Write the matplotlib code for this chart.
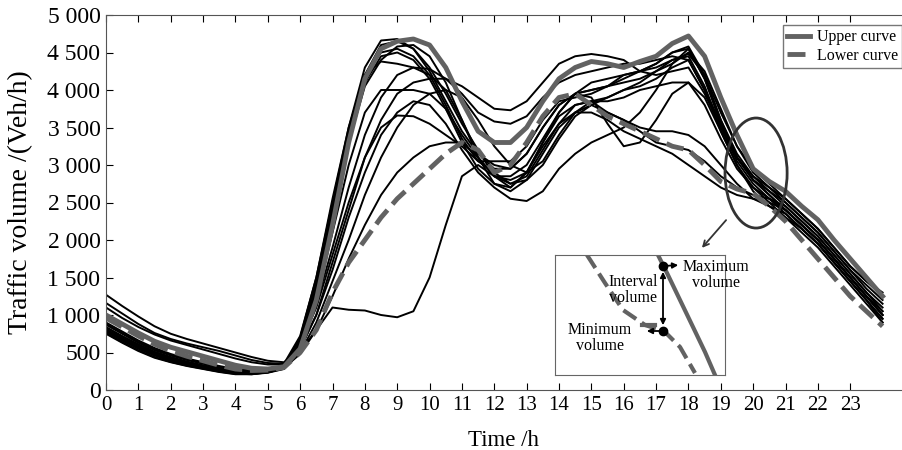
import numpy as np
import matplotlib
matplotlib.use("Agg")
import matplotlib.pyplot as plt
from matplotlib.patches import Ellipse
from matplotlib.lines import Line2D
from matplotlib.ticker import FuncFormatter

plt.rcParams["font.family"] = ["Liberation Serif", "DejaVu Serif"]

# half-hour time grid, 0 h .. 24 h
hours = [i * 0.5 for i in range(49)]

# traffic volume (veh/h), one list per day
day_01 = [900, 780, 660, 560, 480, 420, 370, 320, 280, 260, 265, 320,
          700, 1500, 2500, 3500, 4300, 4660, 4680, 4550, 4250, 3850, 3450, 3150,
          2950, 2950, 3150, 3500, 3800, 3950, 4000, 4050, 4150, 4250, 4350, 4500,
          4580, 4200, 3600, 3150, 2850, 2650, 2450, 2250, 2050, 1800, 1550, 1300, 1100]
day_02 = [870, 750, 630, 530, 460, 400, 350, 300, 270, 250, 260, 310,
          650, 1400, 2400, 3400, 4200, 4600, 4650, 4550, 4300, 3950, 3550, 3200,
          2850, 2850, 3000, 3350, 3700, 3950, 4100, 4150, 4200, 4250, 4350, 4500,
          4550, 4150, 3550, 3100, 2800, 2600, 2400, 2200, 2000, 1750, 1500, 1250, 1000]
day_03 = [830, 710, 600, 500, 430, 370, 320, 280, 250, 240, 255, 300,
          680, 1450, 2450, 3450, 4200, 4500, 4550, 4450, 4200, 3800, 3350, 3050,
          3050, 3050, 3250, 3600, 3850, 3900, 3950, 4050, 4200, 4250, 4300, 4400,
          4450, 4050, 3500, 3050, 2750, 2550, 2350, 2150, 1950, 1700, 1450, 1200, 950]
day_04 = [1160, 1020, 880, 760, 680, 620, 570, 520, 460, 400, 360, 350,
          720, 1500, 2550, 3500, 4200, 4380, 4350, 4300, 4200, 4000, 3600, 3100,
          2750, 2700, 2900, 3300, 3650, 3800, 3850, 3900, 4000, 4100, 4250, 4350,
          4500, 4250, 3750, 3250, 2900, 2700, 2500, 2300, 2100, 1850, 1600, 1400, 1200]
day_05 = [800, 680, 570, 480, 410, 350, 300, 260, 230, 220, 245, 300,
          600, 1200, 2100, 3000, 3700, 4000, 4000, 4000, 3950, 3750, 3400, 3100,
          2850, 2800, 2900, 3250, 3550, 3700, 3800, 3900, 4000, 4050, 4150, 4300,
          4400, 4000, 3450, 3000, 2700, 2500, 2300, 2100, 1900, 1650, 1400, 1150, 900]
day_06 = [780, 660, 550, 460, 390, 340, 290, 250, 220, 210, 235, 290,
          620, 1300, 2300, 3300, 4050, 4400, 4580, 4600, 4450, 4100, 3600, 3150,
          3000, 2950, 3150, 3500, 3800, 3950, 4000, 4050, 4100, 4150, 4250, 4400,
          4480, 4200, 3700, 3250, 2950, 2750, 2550, 2350, 2150, 1900, 1650, 1450, 1300]
day_07 = [1270, 1120, 980, 850, 750, 680, 620, 560, 500, 440, 390, 370,
          550, 1000, 1700, 2400, 3100, 3600, 3950, 4100, 4150, 4150, 4050, 3900,
          3750, 3730, 3850, 4100, 4350, 4450, 4480, 4450, 4400, 4250, 4200, 4250,
          4300, 3950, 3500, 3100, 2850, 2700, 2550, 2350, 2150, 1900, 1650, 1450, 1250]
day_08 = [1100, 960, 840, 740, 660, 600, 540, 480, 420, 370, 340, 340,
          580, 1150, 1900, 2700, 3400, 3900, 4200, 4300, 4280, 4150, 3950, 3700,
          3580, 3550, 3650, 3900, 4100, 4200, 4250, 4300, 4350, 4350, 4400, 4450,
          4400, 4000, 3550, 3100, 2800, 2650, 2500, 2300, 2100, 1850, 1600, 1350, 1150]
day_09 = [750, 630, 520, 430, 370, 320, 280, 240, 210, 210, 230, 280,
          600, 1100, 1800, 2500, 3100, 3500, 3660, 3650, 3550, 3400, 3250, 3050,
          2900, 2750, 2850, 3200, 3550, 3800, 3850, 3700, 3600, 3450, 3300, 3250,
          3200, 3050, 2850, 2700, 2600, 2550, 2450, 2250, 2050, 1800, 1550, 1300, 1050]
day_10 = [880, 760, 640, 545, 470, 410, 360, 310, 275, 255, 260, 305,
          500, 900, 1450, 2000, 2600, 3100, 3500, 3800, 3950, 4000, 3900, 3600,
          3250, 3000, 2900, 3050, 3400, 3700, 3850, 3850, 3900, 4000, 4050, 4100,
          4100, 3800, 3350, 2950, 2700, 2550, 2400, 2200, 2000, 1750, 1500, 1250, 1000]
day_11 = [810, 690, 580, 490, 420, 360, 310, 270, 240, 230, 250, 295,
          480, 800, 1250, 1750, 2200, 2600, 2900, 3100, 3250, 3300, 3300, 3100,
          2850, 2750, 2800, 3000, 3350, 3650, 3800, 3700, 3600, 3500, 3450, 3450,
          3400, 3250, 3000, 2750, 2550, 2450, 2350, 2150, 1950, 1700, 1450, 1200, 950]
day_12 = [790, 670, 560, 470, 400, 345, 295, 255, 225, 215, 240, 300,
          520, 800, 1100, 1070, 1060, 1000, 970, 1050, 1500, 2200, 2850, 3000,
          2850, 2700, 2900, 3300, 3700, 3950, 3900, 3550, 3250, 3300, 3600, 3950,
          4100, 3900, 3450, 3000, 2650, 2450, 2300, 2150, 1950, 1700, 1450, 1200, 900]
day_13 = [840, 720, 610, 510, 440, 380, 330, 290, 255, 245, 255, 295,
          550, 1000, 1600, 2300, 2900, 3400, 3700, 3850, 3800, 3550, 3200, 2900,
          2700, 2550, 2520, 2650, 2950, 3150, 3300, 3400, 3500, 3700, 4000, 4350,
          4550, 4150, 3600, 3100, 2800, 2600, 2400, 2200, 2000, 1750, 1500, 1250, 1050]
day_14 = [760, 640, 530, 440, 375, 325, 285, 245, 215, 215, 235, 285,
          650, 1350, 2350, 3350, 4100, 4450, 4500, 4400, 4150, 3750, 3300, 2950,
          2750, 2650, 2800, 3150, 3500, 3700, 3700, 3600, 3450, 3350, 3250, 3150,
          3000, 2850, 2700, 2600, 2550, 2500, 2400, 2200, 2000, 1750, 1500, 1250, 1000]

upper_curve = [1000, 880, 760, 650, 570, 510, 450, 390, 330, 290, 280, 310,
               550, 1200, 2200, 3300, 4150, 4550, 4650, 4680, 4600, 4300, 3850, 3450,
               3300, 3300, 3500, 3850, 4150, 4300, 4380, 4350, 4300, 4380, 4450, 4620,
               4720, 4450, 3900, 3400, 2950, 2780, 2650, 2450, 2270, 2000, 1750, 1500, 1250]
lower_curve = [960, 840, 720, 610, 520, 450, 390, 330, 280, 260, 265, 300,
               500, 800, 1300, 1700, 2000, 2300, 2550, 2750, 2950, 3150, 3300, 3200,
               2900, 3000, 3300, 3650, 3900, 3950, 3800, 3650, 3550, 3450, 3350, 3250,
               3200, 3000, 2780, 2680, 2620, 2450, 2250, 2000, 1750, 1500, 1250, 1050, 850]

days = [day_01, day_02, day_03, day_04, day_05, day_06, day_07,
        day_08, day_09, day_10, day_11, day_12, day_13, day_14]

# schematic inset (local coords, y grows downwards)
inset_upper_x = [103, 112, 125, 138, 150, 160]
inset_upper_y = [0, 18, 45, 72, 97, 120]
inset_lower_x = [32, 50, 68, 90, 109, 125, 140]
inset_lower_y = [0, 28, 55, 70, 76, 92, 118]
max_pt = (108, 11)
min_pt = (108, 76)

gray = "#626262"

fig = plt.figure(figsize=(9.02, 4.5), dpi=100)
ax = fig.add_axes([106 / 902, 60 / 450, 796 / 902, 375 / 450])

for d in days:
    ax.plot(hours, d, color="black", lw=1.4, zorder=2)
ax.plot(hours, upper_curve, color=gray, lw=3.5, zorder=3)
ax.plot(hours, lower_curve, color=gray, lw=3.5, ls="--", zorder=3)

ax.set_xlim(0, 24.6)
ax.set_ylim(0, 5000)
ax.set_xticks(range(24))
ax.set_yticks(range(0, 5001, 500))
ax.yaxis.set_major_formatter(FuncFormatter(lambda v, p: f"{int(v):,}".replace(",", " ")))
ax.tick_params(direction="in", top=True, right=False, length=5, pad=4)
ax.tick_params(axis="x", labelsize=15)
ax.tick_params(axis="y", labelsize=17)
for s in ["left", "bottom", "top"]:
    ax.spines[s].set_color("#555555")
ax.spines["right"].set_visible(False)
ax.set_xlabel("Time /h", fontsize=16.5, labelpad=11)
ax.set_ylabel("Traffic volume /(Veh/h)", fontsize=20)
ax.yaxis.set_label_coords(-0.092, 0.5)

# highlighted region and pointer
ax.add_patch(Ellipse((20.09, 2893), 1.92, 1467, fill=False, edgecolor="#333333", lw=2, zorder=4))
ax.annotate("", xy=(18.36, 1867), xytext=(19.22, 2293),
            arrowprops=dict(arrowstyle="->", color="#333333", lw=1.3))

handles = [Line2D([], [], color=gray, lw=3.5),
           Line2D([], [], color=gray, lw=3.5, ls="--")]
leg = ax.legend(handles, ["Upper curve", "Lower curve"], loc="upper right",
                bbox_to_anchor=(1.0, 0.973), borderaxespad=0, fontsize=11.5,
                fancybox=False, handlelength=1.5, handletextpad=0.4,
                borderpad=0.25, labelspacing=0.15)
leg.get_frame().set_edgecolor("#555555")
leg.get_frame().set_linewidth(1)

# inset sketch
ai = fig.add_axes([555 / 902, 75 / 450, 170 / 902, 120 / 450])
ai.set_xlim(0, 170)
ai.set_ylim(120, 0)
ai.set_xticks([])
ai.set_yticks([])
for s in ai.spines.values():
    s.set_color("#666666")
ai.plot(inset_upper_x, inset_upper_y, color=gray, lw=3)
ai.plot(inset_lower_x, inset_lower_y, color=gray, lw=3, ls="--")
ai.plot([87, 100], [70, 70], color=gray, lw=3)
ai.plot(*max_pt, "o", color="black", ms=6)
ai.plot(*min_pt, "o", color="black", ms=6)
ai.annotate("", xy=(max_pt[0], max_pt[1] + 3), xytext=(min_pt[0], min_pt[1] - 3),
            arrowprops=dict(arrowstyle="<|-|>", color="black", lw=1.3, mutation_scale=8))
ai.annotate("", xy=(126, 10), xytext=max_pt,
            arrowprops=dict(arrowstyle="-|>", color="black", lw=1.3, mutation_scale=8))
ai.annotate("", xy=(89, 76), xytext=min_pt,
            arrowprops=dict(arrowstyle="-|>", color="black", lw=1.3, mutation_scale=8))
ai.text(161, 20, "Maximum\nvolume", fontsize=11.5, ha="center", va="center", linespacing=1.0)
ai.text(78, 35, "Interval\nvolume", fontsize=11.5, ha="center", va="center", linespacing=1.0)
ai.text(45, 83, "Minimum\nvolume", fontsize=11.5, ha="center", va="center", linespacing=1.0)

fig.savefig("out.png", dpi=100)
